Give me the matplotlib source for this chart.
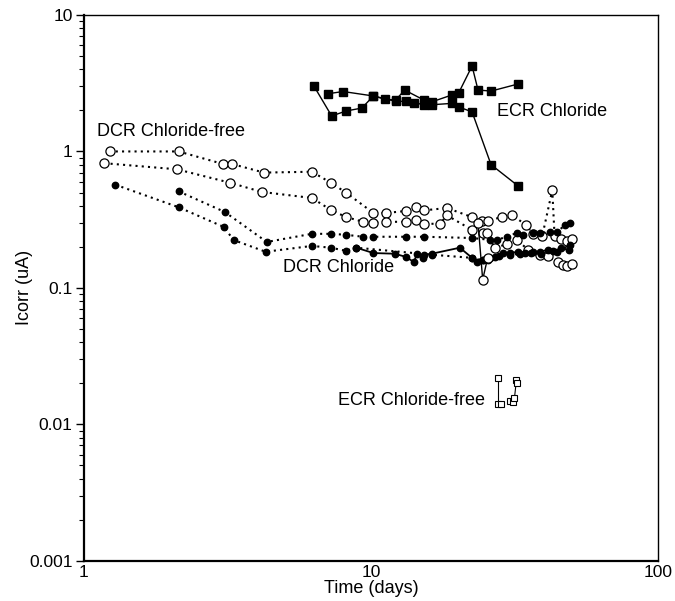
import matplotlib
matplotlib.use("Agg")
import matplotlib.pyplot as plt
from matplotlib.ticker import LogLocator, FixedLocator, NullFormatter

plt.rcParams['font.family'] = ['Liberation Sans', 'DejaVu Sans']

# DCR Chloride-free (open circles, dotted)
dcr_free_a_t = [1.23, 2.14, 3.05, 3.28, 4.24, 6.23, 7.25, 8.18, 10.2, 11.3, 13.2, 14.3, 15.3, 18.4, 22.5, 24.3,
                25.5, 28.5, 31.1, 34.6, 36.6, 39.5, 42.8, 43.6, 46.0, 48.0, 50.0]
dcr_free_a_v = [1.0, 1.0, 0.81, 0.81, 0.70, 0.71, 0.59, 0.50, 0.354, 0.354, 0.366, 0.39, 0.37, 0.385, 0.33, 0.31,
                0.31, 0.33, 0.34, 0.29, 0.25, 0.24, 0.52, 0.24, 0.23, 0.22, 0.23]
dcr_free_b_t = [1.18, 2.11, 3.23, 4.17, 6.23, 7.25, 8.18, 9.4, 10.2, 11.3, 13.2, 14.3, 15.3, 17.4, 18.4, 22.5,
                24.5, 25.3, 27.0, 29.8, 32.2, 35.3, 38.8, 41.2, 44.8, 46.5, 48.0, 50.0]
dcr_free_b_v = [0.82, 0.74, 0.59, 0.505, 0.456, 0.373, 0.331, 0.305, 0.30, 0.305, 0.305, 0.315, 0.295, 0.295, 0.34,
                0.266, 0.253, 0.253, 0.196, 0.21, 0.225, 0.19, 0.175, 0.17, 0.155, 0.148, 0.145, 0.15]

# DCR Chloride (filled circles)
dcr_cl_c_t = [2.14, 3.1, 4.34, 6.23, 7.25, 8.18, 9.4, 10.2, 13.2, 15.3, 22.5, 26.0, 27.4, 29.8, 32.2, 33.8,
              36.6, 38.8, 42.0, 44.5, 47.5, 49.4]
dcr_cl_c_v = [0.51, 0.36, 0.217, 0.249, 0.249, 0.245, 0.237, 0.237, 0.237, 0.237, 0.232, 0.225, 0.225, 0.237, 0.253,
              0.245, 0.253, 0.253, 0.257, 0.257, 0.29, 0.30]
dcr_cl_d_t = [1.29, 2.14, 3.07, 3.33, 4.30, 6.23, 7.25, 8.18, 8.9, 16.3, 22.5, 24.5, 26.0, 28.0, 30.5, 33.0,
              36.0, 39.0, 43.0, 46.0, 49.0]
dcr_cl_d_v = [0.57, 0.39, 0.28, 0.224, 0.184, 0.203, 0.197, 0.187, 0.197, 0.175, 0.166, 0.16, 0.165, 0.17, 0.175,
              0.178, 0.18, 0.176, 0.185, 0.195, 0.19]
dcr_cl_e_t = [8.9, 10.2, 12.1, 13.2, 14.1, 14.5, 15.2, 15.3, 16.3, 20.4, 22.5, 23.4, 24.5, 25.5, 27.0, 28.8,
              30.5, 32.5, 34.3, 36.6, 38.8, 41.2, 44.5, 49.4]
dcr_cl_e_v = [0.197, 0.18, 0.178, 0.169, 0.155, 0.178, 0.166, 0.175, 0.178, 0.197, 0.166, 0.155, 0.16, 0.16, 0.168,
              0.18, 0.18, 0.184, 0.18, 0.184, 0.184, 0.19, 0.184, 0.207]
dcr_dip_t = [23.6, 24.5, 25.5]
dcr_dip_v = [0.30, 0.115, 0.166]

# ECR Chloride (filled squares, solid)
ecr_cl_f_t = [6.33, 7.3, 8.2, 9.3, 10.2, 11.2, 12.2, 13.1, 15.3, 16.3, 19.1, 20.2, 22.5, 23.6, 26.2, 32.5]
ecr_cl_f_v = [3.02, 1.82, 1.98, 2.08, 2.55, 2.42, 2.38, 2.82, 2.38, 2.31, 2.59, 2.68, 4.23, 2.82, 2.77, 3.12]
ecr_cl_g_t = [7.1, 8.0, 10.2, 12.2, 13.2, 14.1, 15.3, 16.3, 19.1, 20.2, 22.5, 26.2, 32.5]
ecr_cl_g_v = [2.65, 2.75, 2.55, 2.33, 2.33, 2.28, 2.2, 2.2, 2.25, 2.12, 1.95, 0.80, 0.56]

# ECR Chloride-free (open squares)
ecr_free_a_t = [27.6, 27.6, 28.4]
ecr_free_a_v = [0.022, 0.0142, 0.0142]
ecr_free_b_t = [30.6, 31.3, 31.6, 32.1, 32.3]
ecr_free_b_v = [0.0148, 0.0145, 0.0155, 0.021, 0.020]

fig = plt.figure(figsize=(6.75, 6.01), dpi=100)
ax = fig.add_axes([0.124, 0.067, 0.851, 0.908])

dot = (0, (1.0, 2.0))
ocirc = dict(marker='o', markersize=6.6, markerfacecolor='white', markeredgecolor='black', markeredgewidth=0.9)
fcirc = dict(marker='o', markersize=4.6, markerfacecolor='black', markeredgecolor='black')

ax.plot(dcr_free_a_t, dcr_free_a_v, color='black', linestyle=dot, lw=1.5, **ocirc)
ax.plot(dcr_free_b_t, dcr_free_b_v, color='black', linestyle=dot, lw=1.5, **ocirc)
ax.plot(dcr_cl_c_t, dcr_cl_c_v, color='black', linestyle=dot, lw=1.5, **fcirc)
ax.plot(dcr_cl_d_t, dcr_cl_d_v, color='black', linestyle=dot, lw=1.5, **fcirc)
ax.plot(dcr_cl_e_t, dcr_cl_e_v, color='black', linestyle='-', lw=1.3, **fcirc)
ax.plot(dcr_dip_t, dcr_dip_v, color='black', linestyle='-', lw=1.0, **ocirc)

sq = dict(marker='s', markersize=5.2, markerfacecolor='black', markeredgecolor='black')
ax.plot(ecr_cl_f_t, ecr_cl_f_v, color='black', lw=1.0, **sq)
ax.plot(ecr_cl_g_t, ecr_cl_g_v, color='black', lw=1.0, **sq)
osq = dict(marker='s', markersize=4.6, markerfacecolor='white', markeredgecolor='black', markeredgewidth=0.8)
ax.plot(ecr_free_a_t, ecr_free_a_v, color='black', lw=0.8, **osq)
ax.plot(ecr_free_b_t, ecr_free_b_v, color='black', lw=0.8, **osq)

ax.set_xscale('log')
ax.set_yscale('log')
ax.set_xlim(1, 100)
ax.set_ylim(0.001, 10)

ax.xaxis.set_major_locator(FixedLocator([1, 10, 100]))
ax.set_xticklabels(['1', '10', '100'])
ax.xaxis.set_minor_locator(FixedLocator([]))
ax.yaxis.set_major_locator(FixedLocator([0.001, 0.01, 0.1, 1, 10]))
ax.set_yticklabels(['0.001', '0.01', '0.1', '1', '10'])
ax.yaxis.set_minor_locator(LogLocator(base=10, subs=range(2, 10)))
ax.yaxis.set_minor_formatter(NullFormatter())
ax.tick_params(axis='y', which='major', length=6, width=1, labelsize=12.5, pad=2)
ax.tick_params(axis='y', which='minor', length=3.5, width=0.8)
ax.tick_params(axis='x', which='major', length=0, labelsize=12.5, pad=3)

for side in ['top', 'right']:
    ax.spines[side].set_linewidth(1.0)
for side in ['left', 'bottom']:
    ax.spines[side].set_linewidth(1.6)

ax.set_xlabel('Time (days)', fontsize=13, va='top')
ax.set_ylabel('Icorr (uA)', fontsize=13, va='center')
ax.xaxis.set_label_coords(0.5, -0.036)
ax.yaxis.set_label_coords(-0.103, 0.5)

fs = 13
ax.text(1.11, 1.41, 'DCR Chloride-free', fontsize=fs, ha='left', va='center')
ax.text(4.94, 0.14, 'DCR Chloride', fontsize=fs, ha='left', va='center')
ax.text(27.5, 1.95, 'ECR Chloride', fontsize=fs, ha='left', va='center')
ax.text(7.7, 0.0150, 'ECR Chloride-free', fontsize=fs, ha='left', va='center')

fig.savefig('out.png', dpi=100)
